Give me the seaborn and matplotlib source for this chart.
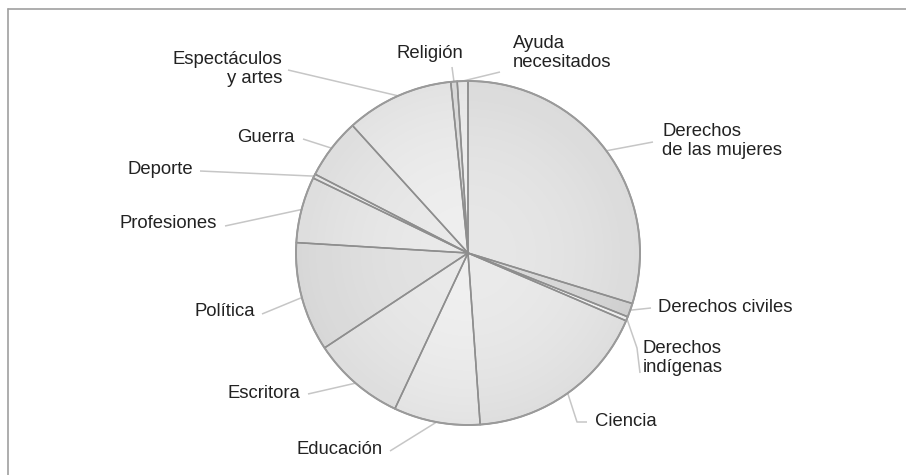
import numpy as np
import matplotlib
matplotlib.use("Agg")
import matplotlib.pyplot as plt
from matplotlib.lines import Line2D
import seaborn as sns

# share of women by field (percent)
categories = ["Derechos\nde las mujeres", "Derechos civiles", "Derechos\nindígenas",
              "Ciencia", "Educación", "Escritora", "Política", "Profesiones",
              "Deporte", "Guerra", "Espectáculos\ny artes", "Religión",
              "Ayuda\nnecesitados"]
shares = [29.7, 1.3, 0.4, 17.4, 8.1, 8.7, 10.25, 6.2, 0.4, 5.7, 10.1, 0.6, 1.0]

W, H = 906, 475
CX, CY, R = 468, 253, 172

# label layout in pixel coords: text anchor, alignment, leader points after the wedge edge
layout = {
    "Derechos\nde las mujeres": ((662, 141), "left", [(653, 142)]),
    "Derechos civiles": ((658, 307), "left", [(651, 308)]),
    "Derechos\nindígenas": ((643, 358), "left", [(637, 348), (640, 373)]),
    "Ciencia": ((595, 422), "left", [(577, 422), (587, 422)]),
    "Educación": ((383, 450), "right", [(390, 451)]),
    "Escritora": ((300, 393), "right", [(308, 394)]),
    "Política": ((255, 312), "right", [(262, 314)]),
    "Profesiones": ((217, 223), "right", [(225, 226)]),
    "Deporte": ((193, 169), "right", [(200, 171)]),
    "Guerra": ((295, 137), "right", [(303, 139)]),
    "Espectáculos\ny artes": ((282, 69), "right", [(288, 70)]),
    "Religión": ((430, 53), "center", [(452, 67)]),
    "Ayuda\nnecesitados": ((513, 53), "left", [(500, 72)]),
}

slice_colors = ["#e6e6e6", "#dadada", "#f8f8f8", "#eaeaea", "#efefef", "#e9e9e9",
                "#e2e2e2", "#e9e9e9", "#f0f0f0", "#e9e9e9", "#eeeeee", "#e2e2e2",
                "#f0f0f0"]

sns.set_theme(style="white")
plt.rcParams["font.family"] = ["Liberation Sans", "DejaVu Sans"]

fig = plt.figure(figsize=(W / 100, H / 100), dpi=100)
ax = fig.add_axes([0, 0, 1, 1])

center = (CX, H - CY)
wedges, _ = ax.pie(shares, startangle=90, counterclock=False,
                   center=center, radius=R, colors=slice_colors,
                   wedgeprops=dict(linewidth=0))

# soft radial shading, a little darker toward the rim
yy, xx = np.mgrid[-1:1:300j, -1:1:300j]
rr = np.clip(np.hypot(xx, yy), 0, 1)
shade = np.zeros((300, 300, 4))
shade[..., 3] = 0.05 * rr ** 2
img = ax.imshow(shade, extent=(CX - R, CX + R, H - CY - R, H - CY + R),
                interpolation="bilinear", zorder=1.5)
rim = plt.Circle(center, R, transform=ax.transData, fill=False, linewidth=0)
ax.add_patch(rim)
img.set_clip_path(rim)

# slice borders drawn on top of the shading
ax.pie(shares, startangle=90, counterclock=False, center=center, radius=R,
       wedgeprops=dict(fill=False, edgecolor="#8e8e8e", linewidth=1.1, zorder=2))

ax.set_xlim(0, W)
ax.set_ylim(0, H)
ax.set_aspect("auto")
ax.axis("off")

# outer rim
ax.add_patch(plt.Circle(center, R, fill=False, edgecolor="#9a9a9a", linewidth=1.4, zorder=3))

for w, name in zip(wedges, categories):
    mid = np.deg2rad((w.theta1 + w.theta2) / 2)
    sx, sy = CX + R * np.cos(mid), (H - CY) + R * np.sin(mid)
    (tx, ty), ha, pts = layout[name]
    xs = [sx] + [p[0] for p in pts]
    ys = [sy] + [H - p[1] for p in pts]
    ax.plot(xs, ys, color="#c6c6c6", linewidth=1.1, solid_capstyle="butt", zorder=1)
    ax.text(tx, H - ty, name, ha=ha, va="center", fontsize=13.3,
            color="#222222", linespacing=1.17, multialignment=ha)

# chart area border (top and left only visible)
fig.add_artist(Line2D([8 / W, 1], [1 - 9 / H, 1 - 9 / H], color="#a0a0a0", linewidth=1.2))
fig.add_artist(Line2D([8 / W, 8 / W], [0, 1 - 9 / H], color="#a0a0a0", linewidth=1.2))

fig.savefig("out.png", dpi=100)
